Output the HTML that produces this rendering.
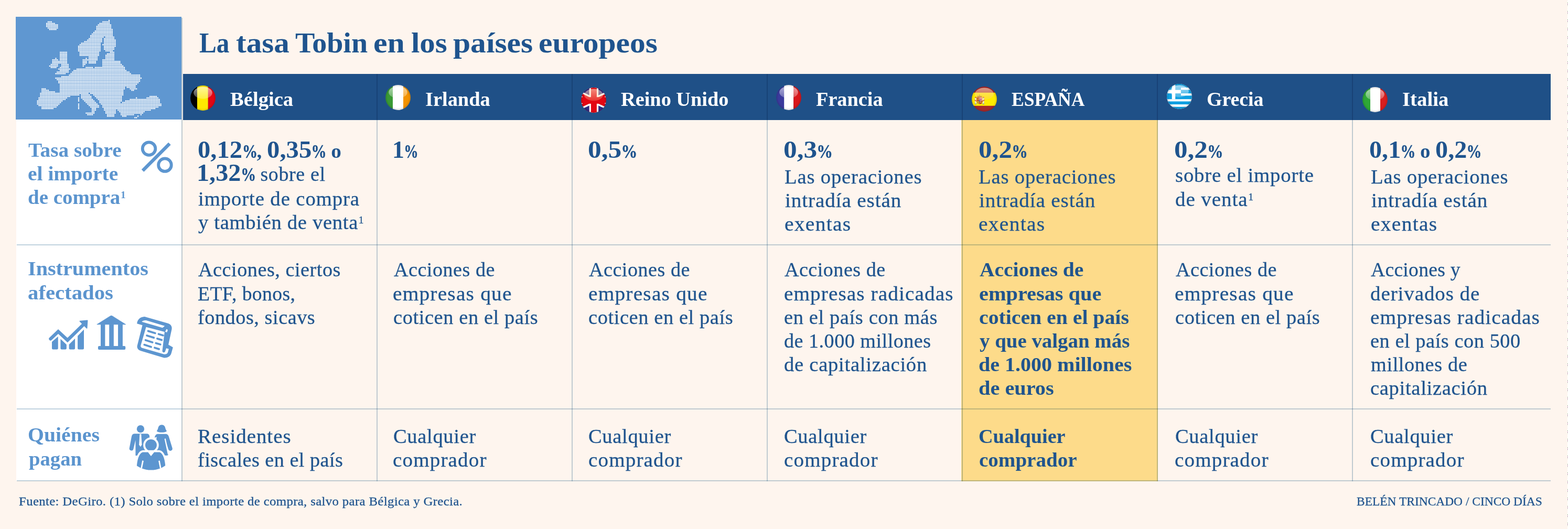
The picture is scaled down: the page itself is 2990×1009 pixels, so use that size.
<!DOCTYPE html>
<html lang="es"><head><meta charset="utf-8"><title>La tasa Tobin en los países europeos</title>
<style>
html,body{margin:0;padding:0}
body{background:#fef5ee}
.page{width:2990px;height:1009px;background:#fef5ee;position:relative;overflow:hidden;font-family:"Liberation Serif","DejaVu Serif",serif;color:#1f548e}
.abs,.t,.ic,.flag,.map{position:absolute}
.t{white-space:nowrap;line-height:1;transform-origin:0 0;margin:0;padding:0;font-weight:normal}
.title{font-size:54px;font-weight:bold;color:#1f548e}
.hd{font-size:37px;font-weight:bold;color:#fff}
.lb{font-size:37px;font-weight:bold;color:#5b94ce}
.b{font-size:37px;font-weight:normal;color:#1f548e}
.bb{font-size:38px;font-weight:bold;color:#1f548e}
.n{font-size:47px;font-weight:bold;color:#1f548e}
.ft{font-size:24px;font-weight:normal;color:#1f548e}
.cr{font-size:24px;font-weight:normal;color:#1f548e}

.n .p{font-size:36px;display:inline-block;transform:scaleX(.78);transform-origin:0 0;margin:0 -.25em 0 -.02em;-webkit-text-stroke:.5px #1f548e}
.n .o{font-size:38px}
.n .r{font-size:37px;font-weight:normal;letter-spacing:.6px}
.b,.n .r,.ft,.cr{-webkit-text-stroke:.3px #1f548e}
sup{font-size:.5em;line-height:0;vertical-align:baseline;position:relative;top:-.62em;margin-left:.04em}
h1,h2,p{margin:0}
.title .w{display:inline-block;transform-origin:0 0;white-space:pre}
.ln{background:rgb(192,211,223);mix-blend-mode:multiply}
</style></head>
<body>
<main class="page">
<div class="abs" style="left:2989px;top:0;width:1px;height:1009px;background:#fff repeating-linear-gradient(180deg,#fff 0 5px,#6fb874 5px 6px,#f2c4f2 6px 8px,#b3a6b6 8px 10px,#fff 10px 11px,#dcf2d4 11px 12px,#fff 12px 16px)"></div>
<div class="abs" style="left:31px;top:228px;width:315px;height:689px;background:#fff"></div>
<div class="abs" style="left:1833px;top:228px;width:375px;height:690px;background:#fddb8a"></div>
<div class="abs" style="left:349px;top:141px;width:2608px;height:87.5px;background:#1f5087"></div>
<div class="abs ln" style="left:32px;top:466px;width:2925px;height:2px"></div>
<div class="abs ln" style="left:32px;top:779px;width:2925px;height:2px"></div>
<div class="abs ln" style="left:32px;top:916px;width:2925px;height:2px"></div>
<div class="abs ln" style="left:346px;top:34px;width:2px;height:884px"></div>
<div class="abs ln" style="left:718px;top:141px;width:2px;height:777px"></div>
<div class="abs ln" style="left:1090px;top:141px;width:2px;height:777px"></div>
<div class="abs ln" style="left:1462px;top:141px;width:2px;height:777px"></div>
<div class="abs ln" style="left:1834px;top:141px;width:2px;height:777px"></div>
<div class="abs ln" style="left:2206px;top:141px;width:2px;height:777px"></div>
<div class="abs ln" style="left:2578px;top:141px;width:2px;height:777px"></div>
<svg class="map" style="left:30px;top:32px" width="316" height="196" viewBox="0 0 316 196">
<rect width="316" height="196" fill="#5f97d1"/>
<path d="M178.00 6.90h0.05M62.00 9.80h5.85M166.40 9.80h11.65M59.10 12.70h14.55M160.60 12.70h17.45M59.10 15.60h20.35M157.70 15.60h23.25M59.10 18.50h20.35M154.80 18.50h26.15M62.00 21.40h17.45M154.80 21.40h26.15M64.90 24.30h11.65M154.80 24.30h29.05M151.90 27.20h31.95M149.00 30.10h34.85M146.10 33.00h37.75M143.20 35.90h40.65M143.20 38.80h23.25M172.20 38.80h14.55M140.30 41.70h23.25M169.30 41.70h17.45M137.40 44.60h26.15M169.30 44.60h20.35M131.60 47.50h31.95M169.30 47.50h20.35M125.80 50.40h34.85M169.30 50.40h20.35M122.90 53.30h37.75M166.40 53.30h23.25M120.00 56.20h40.65M169.30 56.20h20.35M120.00 59.10h40.65M169.30 59.10h17.45M120.00 62.00h40.65M169.30 62.00h17.45M120.00 64.90h40.65M172.20 64.90h11.65M85.20 67.80h11.65M122.90 67.80h34.85M180.90 67.80h5.85M85.20 70.70h11.65M122.90 70.70h34.85M175.10 70.70h11.65M85.20 73.60h11.65M122.90 73.60h34.85M172.20 73.60h14.55M85.20 76.50h11.65M140.30 76.50h14.55M172.20 76.50h14.55M76.50 79.40h0.05M85.20 79.40h11.65M134.50 79.40h0.05M140.30 79.40h14.55M172.20 79.40h14.55M70.70 82.30h8.75M85.20 82.30h11.65M128.70 82.30h26.15M166.40 82.30h20.35M70.70 85.20h26.15M128.70 85.20h5.85M140.30 85.20h11.65M166.40 85.20h31.95M70.70 88.10h26.15M128.70 88.10h5.85M140.30 88.10h11.65M166.40 88.10h31.95M67.80 91.00h11.65M88.10 91.00h11.65M128.70 91.00h2.95M166.40 91.00h34.85M64.90 93.90h14.55M88.10 93.90h11.65M128.70 93.90h0.05M166.40 93.90h37.75M67.80 96.80h8.75M85.20 96.80h14.55M134.50 96.80h11.65M151.90 96.80h55.15M82.30 99.70h20.35M117.10 99.70h89.95M85.20 102.60h14.55M111.30 102.60h98.65M79.40 105.50h20.35M108.40 105.50h107.35M76.50 108.40h17.45M105.50 108.40h113.15M102.60 111.30h133.45M88.10 114.20h147.95M76.50 117.10h162.45M79.40 120.00h156.65M82.30 122.90h153.75M82.30 125.80h150.85M85.20 128.70h145.05M85.20 131.60h142.15M85.20 134.50h121.85M212.80 134.50h14.55M50.40 137.40h5.85M85.20 137.40h121.85M218.60 137.40h11.65M50.40 140.30h11.65M85.20 140.30h118.95M221.50 140.30h2.95M50.40 143.20h23.25M85.20 143.20h118.95M47.50 146.10h89.95M143.20 146.10h60.95M47.50 149.00h72.55M125.80 149.00h14.55M149.00 149.00h55.15M47.50 151.90h55.15M125.80 151.90h17.45M151.90 151.90h49.35M256.30 151.90h11.65M44.60 154.80h52.25M120.00 154.80h0.05M125.80 154.80h17.45M154.80 154.80h46.45M230.20 154.80h0.05M250.50 154.80h20.35M44.60 157.70h49.35M120.00 157.70h0.05M128.70 157.70h17.45M157.70 157.70h43.55M218.60 157.70h55.15M41.70 160.60h46.45M120.00 160.60h0.05M131.60 160.60h17.45M160.60 160.60h40.65M209.90 160.60h63.85M41.70 163.50h43.55M134.50 163.50h17.45M160.60 163.50h37.75M204.10 163.50h69.65M41.70 166.40h40.65M120.00 166.40h0.05M137.40 166.40h17.45M163.50 166.40h113.15M44.60 169.30h34.85M120.00 169.30h0.05M140.30 169.30h17.45M166.40 169.30h110.25M50.40 172.20h26.15M120.00 172.20h0.05M143.20 172.20h14.55M166.40 172.20h104.45M50.40 175.10h20.35M120.00 175.10h0.05M146.10 175.10h5.85M169.30 175.10h95.75M146.10 178.00h5.85M169.30 178.00h20.35M195.40 178.00h60.95M146.10 180.90h2.95M172.20 180.90h17.45M198.30 180.90h46.45M134.50 183.80h14.55M172.20 183.80h17.45M201.20 183.80h40.65M137.40 186.70h8.75M175.10 186.70h11.65M201.20 186.70h23.25M238.90 186.70h0.05M175.10 189.60h11.65M204.10 189.60h5.85M233.10 189.60h0.05M227.30 192.50h2.95" fill="none" stroke="#fff" stroke-width="2.55" stroke-dasharray="0 2.9" stroke-linecap="round"/>
</svg>
<svg class="flag" style="left:362.7px;top:162.7px" width="48" height="48" viewBox="0 0 48 48">
<defs><clipPath id="fc0"><circle cx="24" cy="24" r="23.9"/></clipPath>
<linearGradient id="fg0" x1="0" y1="0" x2="0" y2="1"><stop offset="0" stop-color="#fff" stop-opacity=".6"/><stop offset="1" stop-color="#fff" stop-opacity=".24"/></linearGradient>
<radialGradient id="fs0" cx=".5" cy=".5" r=".5"><stop offset=".82" stop-color="#000" stop-opacity="0"/><stop offset="1" stop-color="#000" stop-opacity=".14"/></radialGradient></defs>
<g clip-path="url(#fc0)"><rect width="13.0" height="48" fill="#000"/><rect x="13.0" width="20.799999999999997" height="48" fill="#ffe900"/><rect x="33.8" width="14.200000000000003" height="48" fill="#e30613"/>
<circle cx="24" cy="24" r="24" fill="url(#fs0)"/>
<ellipse cx="24" cy="14" rx="17.8" ry="11.4" fill="url(#fg0)"/></g></svg>
<svg class="flag" style="left:735.2px;top:162.0px" width="48" height="48" viewBox="0 0 48 48">
<defs><clipPath id="fc1"><circle cx="24" cy="24" r="23.9"/></clipPath>
<linearGradient id="fg1" x1="0" y1="0" x2="0" y2="1"><stop offset="0" stop-color="#fff" stop-opacity=".6"/><stop offset="1" stop-color="#fff" stop-opacity=".24"/></linearGradient>
<radialGradient id="fs1" cx=".5" cy=".5" r=".5"><stop offset=".82" stop-color="#000" stop-opacity="0"/><stop offset="1" stop-color="#000" stop-opacity=".14"/></radialGradient></defs>
<g clip-path="url(#fc1)"><rect width="14" height="48" fill="#3a9a34"/><rect x="14" width="20" height="48" fill="#fff"/><rect x="34" width="14" height="48" fill="#f39200"/>
<circle cx="24" cy="24" r="24" fill="url(#fs1)"/>
<ellipse cx="24" cy="14" rx="17.8" ry="11.4" fill="url(#fg1)"/></g></svg>
<svg class="flag" style="left:1107.5px;top:167.0px" width="48" height="48" viewBox="0 0 48 48">
<defs><clipPath id="fc2"><circle cx="24" cy="24" r="23.9"/></clipPath>
<linearGradient id="fg2" x1="0" y1="0" x2="0" y2="1"><stop offset="0" stop-color="#ffe6c8" stop-opacity=".6"/><stop offset="1" stop-color="#ffc890" stop-opacity=".24"/></linearGradient>
<radialGradient id="fs2" cx=".5" cy=".5" r=".5"><stop offset=".82" stop-color="#000" stop-opacity="0"/><stop offset="1" stop-color="#000" stop-opacity=".14"/></radialGradient></defs>
<g clip-path="url(#fc2)"><rect width="48" height="48" fill="#e30613"/><path d="M0 0H15.7V16.3L0 8.7ZM48 0H33.1V16.6L48 9.5ZM0 48H15.7V32.4L0 39.9ZM48 48H33.1V31.8L48 39.4Z" fill="#2c2a84"/><path d="M-2 7.8 19 17.9M50 8.6 30 18.1M-2 40.8 19 30.9M50 40.3 30 31.3" stroke="#fff" stroke-width="3.3" fill="none"/><path d="M0 17.6h3M0 30.4h3M48 17.6h-3M48 30.2h-3" stroke="#fff" stroke-width="1.2"/><rect x="15.7" width="17.4" height="48" fill="#fff"/><rect x="18.9" width="11" height="48" fill="#e30613"/><rect x="14" y="18.2" width="20" height="12.6" fill="#e30613"/>
<circle cx="24" cy="24" r="24" fill="url(#fs2)"/>
<ellipse cx="24" cy="14" rx="17.8" ry="11.4" fill="url(#fg2)"/></g></svg>
<svg class="flag" style="left:1480.3px;top:162.0px" width="48" height="48" viewBox="0 0 48 48">
<defs><clipPath id="fc3"><circle cx="24" cy="24" r="23.9"/></clipPath>
<linearGradient id="fg3" x1="0" y1="0" x2="0" y2="1"><stop offset="0" stop-color="#fff" stop-opacity=".6"/><stop offset="1" stop-color="#fff" stop-opacity=".24"/></linearGradient>
<radialGradient id="fs3" cx=".5" cy=".5" r=".5"><stop offset=".82" stop-color="#000" stop-opacity="0"/><stop offset="1" stop-color="#000" stop-opacity=".14"/></radialGradient></defs>
<g clip-path="url(#fc3)"><rect width="15.2" height="48" fill="#3a3a9c"/><rect x="15.2" width="18.000000000000004" height="48" fill="#fff"/><rect x="33.2" width="14.799999999999997" height="48" fill="#d8161a"/>
<circle cx="24" cy="24" r="24" fill="url(#fs3)"/>
<ellipse cx="24" cy="14" rx="17.8" ry="11.4" fill="url(#fg3)"/></g></svg>
<svg class="flag" style="left:1852.7px;top:164.7px" width="48" height="48" viewBox="0 0 48 48">
<defs><clipPath id="fc4"><circle cx="24" cy="24" r="23.9"/></clipPath>
<linearGradient id="fg4" x1="0" y1="0" x2="0" y2="1"><stop offset="0" stop-color="#ffe6c8" stop-opacity=".6"/><stop offset="1" stop-color="#ffc890" stop-opacity=".24"/></linearGradient>
<radialGradient id="fs4" cx=".5" cy=".5" r=".5"><stop offset=".82" stop-color="#000" stop-opacity="0"/><stop offset="1" stop-color="#000" stop-opacity=".14"/></radialGradient></defs>
<g clip-path="url(#fc4)"><rect width="48" height="48" fill="#a62829"/><rect y="11.7" width="48" height="25.1" fill="#ffec00"/><g fill="#e9e2cf"><rect x="6.2" y="21" width="2.6" height="12"/><rect x="20.9" y="21" width="2.6" height="12"/></g><g fill="#c8271f"><path d="M5.3 25.2l4.4 2.2v1.4l-4.4-2.2zM24.4 25.2l-4.4 2.2v1.4l4.4-2.2z"/><rect x="6" y="20.2" width="3" height="1.2"/><rect x="20.7" y="20.2" width="3" height="1.2"/></g><g fill="#5a78b8"><rect x="5.8" y="32.6" width="3.4" height="1.1"/><rect x="20.5" y="32.6" width="3.4" height="1.1"/></g><path d="M10.2 19.6 9.9 17.2l2.3 1 2.6-2.4 2.6 2.4 2.3-1-.3 2.4Z" fill="#c9a227"/><rect x="10.4" y="19.4" width="8.8" height="1.3" fill="#b7342c"/><rect x="14.5" y="14.6" width=".7" height="1.6" fill="#c9a227"/><path d="M9.7 21.2h10.2v8.2q0 4-5.1 4t-5.1-4Z" fill="#c8982e"/><path d="M9.7 21.2h5.1v6H9.7Z" fill="#b9302a"/><path d="M14.8 21.2h5.1v6h-5.1Z" fill="#e9b6c4"/><path d="M16 22.4h2.8v3.6H16Z" fill="#c2418c"/><path d="M11 22.4h2.5v3.6H11Z" fill="#d8a43a"/><path d="M14.8 27.2h5.1v2.2q0 3-3 3.7-2.1.4-2.1.3Z" fill="#b9302a"/><circle cx="17.2" cy="29.6" r="1.6" fill="#d8b44a"/><circle cx="14.8" cy="27.2" r="1.3" fill="#4f69a8"/>
<circle cx="24" cy="24" r="24" fill="url(#fs4)"/>
<ellipse cx="24" cy="14" rx="17.8" ry="11.4" fill="url(#fg4)"/></g></svg>
<svg class="flag" style="left:2225.2px;top:160.0px" width="48" height="48" viewBox="0 0 48 48">
<defs><clipPath id="fc5"><circle cx="24" cy="24" r="23.9"/></clipPath>
<linearGradient id="fg5" x1="0" y1="0" x2="0" y2="1"><stop offset="0" stop-color="#fff" stop-opacity=".6"/><stop offset="1" stop-color="#fff" stop-opacity=".24"/></linearGradient>
<radialGradient id="fs5" cx=".5" cy=".5" r=".5"><stop offset=".82" stop-color="#000" stop-opacity="0"/><stop offset="1" stop-color="#000" stop-opacity=".14"/></radialGradient></defs>
<g clip-path="url(#fc5)"><rect width="48" height="48" fill="#fff"/><rect y="0" width="48" height="7.0" fill="#0d9fe1"/><rect y="11.3" width="48" height="6.8" fill="#0d9fe1"/><rect y="22.4" width="48" height="6.7" fill="#0d9fe1"/><rect y="33.4" width="48" height="5.7" fill="#0d9fe1"/><rect y="43.8" width="48" height="4.2" fill="#0d9fe1"/><rect width="26.9" height="29.1" fill="#0d9fe1"/><rect x="9.7" width="6.5" height="29.1" fill="#fff"/><rect y="11.5" width="26.9" height="6.6" fill="#fff"/>
<circle cx="24" cy="24" r="24" fill="url(#fs5)"/>
<ellipse cx="24" cy="14" rx="17.8" ry="11.4" fill="url(#fg5)"/></g></svg>
<svg class="flag" style="left:2597.6px;top:165.9px" width="48" height="48" viewBox="0 0 48 48">
<defs><clipPath id="fc6"><circle cx="24" cy="24" r="23.9"/></clipPath>
<linearGradient id="fg6" x1="0" y1="0" x2="0" y2="1"><stop offset="0" stop-color="#fff" stop-opacity=".6"/><stop offset="1" stop-color="#fff" stop-opacity=".24"/></linearGradient>
<radialGradient id="fs6" cx=".5" cy=".5" r=".5"><stop offset=".82" stop-color="#000" stop-opacity="0"/><stop offset="1" stop-color="#000" stop-opacity=".14"/></radialGradient></defs>
<g clip-path="url(#fc6)"><rect width="15" height="48" fill="#2ea836"/><rect x="15" width="19" height="48" fill="#fff"/><rect x="34" width="14" height="48" fill="#d81e1e"/>
<circle cx="24" cy="24" r="24" fill="url(#fs6)"/>
<ellipse cx="24" cy="14" rx="17.8" ry="11.4" fill="url(#fg6)"/></g></svg>
<svg class="ic" style="left:250px;top:250px" width="100" height="100" viewBox="0 0 869 869">
<g fill="none" stroke="#5d96d0" stroke-width="50"><circle cx="296" cy="292" r="107"/><circle cx="560" cy="562" r="107"/>
<path d="M192 656 638 208" stroke-width="56"/></g></svg>
<svg class="ic" style="left:80px;top:590px" width="260" height="110" viewBox="0 0 2054 869"><g fill="#5d96d0"><path d="M150 490L243 408V588q0 17-17 17H167q-17 0-17-17Z"/><path d="M280 446L370 532V588q0 17-17 17H297q-17 0-17-17Z"/><path d="M408 530L498 440V588q0 17-17 17H425q-17 0-17-17Z"/><path d="M538 400L632 305V588q0 17-17 17H555q-17 0-17-17Z"/>
<path d="M130 445 245 335 385 465 640 215" fill="none" stroke="#5d96d0" stroke-width="50" stroke-linecap="round" stroke-linejoin="miter"/>
<path d="M572 178 684 168 676 284Z" stroke="#5d96d0" stroke-width="14" stroke-linejoin="round"/></g><g fill="#5d96d0"><path d="M830 228 1030 102q15-9 30 0L1260 228Z" stroke="#5d96d0" stroke-width="8" stroke-linejoin="round"/>
<rect x="885" y="225" width="66" height="335"/><rect x="1013" y="225" width="68" height="335"/><rect x="1146" y="225" width="70" height="335"/>
<rect x="845" y="553" width="413" height="55" rx="16"/></g></svg><svg class="ic" style="left:255px;top:598px" width="80" height="90" viewBox="0 0 772 868.5">
<path fill="#5d96d0" d="M60 185C65 120 110 62 200 58L630 182C682 198 708 238 700 288L638 575 722 622 695 720C680 782 640 818 558 815L140 690C85 672 55 640 65 590L160 215Z"/>
<path fill="#fff" d="M148 153C165 130 195 122 228 126L572 228 530 262Z"/>
<path fill="#fff" d="M228 248 568 338 526 688A27 27 0 0 0 578 700L598 640 645 652 628 715C618 745 590 752 560 750L150 632C128 622 124 605 130 585Z"/>
<path fill="#fff" d="M578 338 602 288Q618 290 626 304L612 346Z"/>
<path d="M265 322L395 362M458 378L540 403M242 405L370 445M433 462L515 487M218 490L345 530M408 545L490 570M195 575L320 615M385 630L465 655" fill="none" stroke="#5d96d0" stroke-width="36" stroke-linecap="round"/>
</svg>
<svg class="ic" style="left:230px;top:795px" width="120" height="115" viewBox="0 0 907 869">
<defs><clipPath id="pc"><circle cx="438" cy="400" r="368"/></clipPath></defs>
<g fill="#5d96d0">
<circle cx="287" cy="175" r="54"/>
<path d="M200 243H375q42 0 42 45V560H215V335L185 462q-8 30-36 24t-22-36L158 285q8-42 42-42Z"/>
<path fill="#fff" d="M275 250h22l9 152-20 30-20-30Z"/>
<path d="M593 116C560 116 545 140 540 165 535 186 526 196 520 206 545 232 640 232 666 206 658 196 650 186 645 165 640 140 626 116 593 116Z"/>
<path d="M535 247H650q32 0 44 36L745 450q8 28-18 38t-38-18L640 320 690 540q-10 22-30 18H480L520 290 490 300q10-53 45-53Z"/>
<path fill="#fff" d="M632 318 l16 -6 50 225 -18 8Z"/>
<circle cx="438" cy="408" r="112" fill="#fff"/>
<circle cx="438" cy="408" r="83"/>
<g clip-path="url(#pc)">
<path fill="#fff" d="M205 800Q205 500 320 482H560Q670 500 672 800Z"/>
<path d="M228 800Q232 540 318 510H395L438 566 484 510H562Q645 540 650 800Z"/>
<path d="M322 632 296 760M555 632 580 760" stroke="#fff" stroke-width="20" fill="none"/>
</g></g></svg>
<h1 class="t title" style="left:379.8px;top:55px"><span class="w" style="width:70.28px;transform:scaleX(0.9108)">La </span><span class="w" style="width:113.08px;transform:scaleX(1.0951)">tasa </span><span class="w" style="width:149.01px;transform:scaleX(1.0367)">Tobin </span><span class="w" style="width:71.77px;transform:scaleX(1.1078)">en </span><span class="w" style="width:79.73px;transform:scaleX(1.0902)">los </span><span class="w" style="width:162.91px;transform:scaleX(1.1026)">países </span><span class="w" style="transform:scaleX(1.1012)">europeos</span></h1>
<div class="hname">
<h2 class="t hd" style="left:439.4px;top:171px;transform:scaleX(1.0438);">Bélgica</h2>
</div>
<div class="hname">
<h2 class="t hd" style="left:811.0px;top:171px;transform:scaleX(1.0381);">Irlanda</h2>
</div>
<div class="hname">
<h2 class="t hd" style="left:1184.4px;top:171px;transform:scaleX(1.0356);">Reino Unido</h2>
</div>
<div class="hname">
<h2 class="t hd" style="left:1556.4px;top:171px;transform:scaleX(1.0345);">Francia</h2>
</div>
<div class="hname">
<h2 class="t hd" style="left:1929.4px;top:171px;transform:scaleX(0.9593);">ESPAÑA</h2>
</div>
<div class="hname">
<h2 class="t hd" style="left:2300.7px;top:171px;transform:scaleX(1.0215);">Grecia</h2>
</div>
<div class="hname">
<h2 class="t hd" style="left:2673.8px;top:171px;transform:scaleX(1.0482);">Italia</h2>
</div>
<div class="label">
<div class="t lb" style="left:53.9px;top:268px;transform:scaleX(1.0606);">Tasa sobre</div>
<div class="t lb" style="left:53.4px;top:313px;transform:scaleX(1.0677);">el importe</div>
<div class="t lb" style="left:53.4px;top:358px;transform:scaleX(1.0524);">de compra<sup>1</sup></div>
</div>
<div class="label">
<div class="t lb" style="left:52.9px;top:494px;transform:scaleX(1.0857);">Instrumentos</div>
<div class="t lb" style="left:53.4px;top:540px;transform:scaleX(1.1014);">afectados</div>
</div>
<div class="label">
<div class="t lb" style="left:52.5px;top:811px;transform:scaleX(1.0738);">Quiénes</div>
<div class="t lb" style="left:54.5px;top:857px;transform:scaleX(1.0446);">pagan</div>
</div>
<div class="cell">
<div class="t n" style="left:376.5px;top:262px;transform:scaleX(1.0356);">0,12<span class="p">%</span><span class="o">, </span>0,35<span class="p">%</span><span class="o"> o</span></div>
<div class="t n" style="left:374.5px;top:306px;transform:scaleX(1.0262);">1,32<span class="p">%</span><span class="r"> sobre el</span></div>
<div class="t b" style="left:378.0px;top:361px;transform:scaleX(1.0482);letter-spacing:0.84px;">importe de compra</div>
<div class="t b" style="left:378.0px;top:406px;transform:scaleX(1.0422);letter-spacing:0.68px;">y también de venta<sup>1</sup></div>
</div>
<div class="cell">
<div class="t n" style="left:747.8px;top:262px;transform:scaleX(0.9727);">1<span class="p">%</span></div>
</div>
<div class="cell">
<div class="t n" style="left:1120.8px;top:262px;transform:scaleX(1.0950);">0,5<span class="p">%</span></div>
</div>
<div class="cell">
<div class="t n" style="left:1494.0px;top:262px;transform:scaleX(1.0926);">0,3<span class="p">%</span></div>
<div class="t b" style="left:1496.1px;top:319px;transform:scaleX(1.0454);letter-spacing:0.77px;">Las operaciones</div>
<div class="t b" style="left:1497.1px;top:364px;transform:scaleX(1.0565);letter-spacing:0.86px;">intradía están</div>
<div class="t b" style="left:1496.0px;top:409px;transform:scaleX(1.0666);letter-spacing:1.21px;">exentas</div>
</div>
<div class="cell hl">
<div class="t n" style="left:1865.6px;top:262px;transform:scaleX(1.0889);">0,2<span class="p">%</span></div>
<div class="t b" style="left:1866.2px;top:319px;transform:scaleX(1.0454);letter-spacing:0.77px;">Las operaciones</div>
<div class="t b" style="left:1867.2px;top:364px;transform:scaleX(1.0565);letter-spacing:0.86px;">intradía están</div>
<div class="t b" style="left:1866.1px;top:409px;transform:scaleX(1.0666);letter-spacing:1.21px;">exentas</div>
</div>
<div class="cell">
<div class="t n" style="left:2239.0px;top:262px;transform:scaleX(1.0865);">0,2<span class="p">%</span></div>
<div class="t b" style="left:2241.0px;top:316px;transform:scaleX(1.0480);letter-spacing:0.76px;">sobre el importe</div>
<div class="t b" style="left:2240.9px;top:362px;transform:scaleX(1.0535);letter-spacing:0.88px;">de venta<sup>1</sup></div>
</div>
<div class="cell">
<div class="t n" style="left:2611.4px;top:262px;transform:scaleX(1.0249);">0,1<span class="p">%</span><span class="o"> o </span>0,2<span class="p">%</span></div>
<div class="t b" style="left:2613.8px;top:319px;transform:scaleX(1.0454);letter-spacing:0.77px;">Las operaciones</div>
<div class="t b" style="left:2614.8px;top:364px;transform:scaleX(1.0565);letter-spacing:0.86px;">intradía están</div>
<div class="t b" style="left:2613.7px;top:409px;transform:scaleX(1.0666);letter-spacing:1.21px;">exentas</div>
</div>
<div class="cell">
<div class="t b" style="left:378.0px;top:496px;transform:scaleX(1.0322);letter-spacing:0.51px;">Acciones, ciertos</div>
<div class="t b" style="left:377.1px;top:542px;transform:scaleX(1.0195);letter-spacing:0.34px;">ETF, bonos,</div>
<div class="t b" style="left:377.0px;top:587px;transform:scaleX(1.0331);letter-spacing:0.53px;">fondos, sicavs</div>
</div>
<div class="cell">
<div class="t b" style="left:750.5px;top:496px;transform:scaleX(1.0286);letter-spacing:0.52px;">Acciones de</div>
<div class="t b" style="left:749.4px;top:542px;transform:scaleX(1.0633);letter-spacing:1.14px;">empresas que</div>
<div class="t b" style="left:749.5px;top:587px;transform:scaleX(1.0382);letter-spacing:0.57px;">coticen en el país</div>
</div>
<div class="cell">
<div class="t b" style="left:1122.7px;top:496px;transform:scaleX(1.0286);letter-spacing:0.52px;">Acciones de</div>
<div class="t b" style="left:1121.6px;top:542px;transform:scaleX(1.0633);letter-spacing:1.14px;">empresas que</div>
<div class="t b" style="left:1121.7px;top:587px;transform:scaleX(1.0382);letter-spacing:0.57px;">coticen en el país</div>
</div>
<div class="cell">
<div class="t b" style="left:1496.3px;top:496px;transform:scaleX(1.0278);letter-spacing:0.50px;">Acciones de</div>
<div class="t b" style="left:1495.2px;top:542px;transform:scaleX(1.0608);letter-spacing:1.02px;">empresas radicadas</div>
<div class="t b" style="left:1495.3px;top:587px;transform:scaleX(1.0383);letter-spacing:0.61px;">en el país con más</div>
<div class="t b" style="left:1495.3px;top:632px;transform:scaleX(1.0299);letter-spacing:0.49px;">de 1.000 millones</div>
<div class="t b" style="left:1495.3px;top:677px;transform:scaleX(1.0444);letter-spacing:0.69px;">de capitalización</div>
</div>
<div class="cell hl">
<div class="t bb" style="left:1868.0px;top:495px;transform:scaleX(1.0382);">Acciones de</div>
<div class="t bb" style="left:1866.9px;top:541px;transform:scaleX(1.0610);">empresas que</div>
<div class="t bb" style="left:1867.0px;top:586px;transform:scaleX(1.0457);">coticen en el país</div>
<div class="t bb" style="left:1868.0px;top:631px;transform:scaleX(1.0233);">y que valgan más</div>
<div class="t bb" style="left:1866.3px;top:676px;transform:scaleX(1.0531);">de 1.000 millones</div>
<div class="t bb" style="left:1866.3px;top:721px;transform:scaleX(1.0608);">de euros</div>
</div>
<div class="cell">
<div class="t b" style="left:2241.5px;top:496px;transform:scaleX(1.0286);letter-spacing:0.52px;">Acciones de</div>
<div class="t b" style="left:2240.4px;top:542px;transform:scaleX(1.0633);letter-spacing:1.14px;">empresas que</div>
<div class="t b" style="left:2240.5px;top:587px;transform:scaleX(1.0382);letter-spacing:0.57px;">coticen en el país</div>
</div>
<div class="cell">
<div class="t b" style="left:2614.0px;top:496px;transform:scaleX(1.0155);letter-spacing:0.29px;">Acciones y</div>
<div class="t b" style="left:2612.9px;top:542px;transform:scaleX(1.0524);letter-spacing:0.89px;">derivados de</div>
<div class="t b" style="left:2612.9px;top:587px;transform:scaleX(1.0613);letter-spacing:1.03px;">empresas radicadas</div>
<div class="t b" style="left:2613.0px;top:632px;transform:scaleX(1.0352);letter-spacing:0.55px;">en el país con 500</div>
<div class="t b" style="left:2614.0px;top:677px;transform:scaleX(1.0345);letter-spacing:0.59px;">millones de</div>
<div class="t b" style="left:2613.0px;top:722px;transform:scaleX(1.0420);letter-spacing:0.66px;">capitalización</div>
</div>
<div class="cell">
<div class="t b" style="left:377.0px;top:814px;transform:scaleX(1.0530);letter-spacing:0.93px;">Residentes</div>
<div class="t b" style="left:377.0px;top:859px;transform:scaleX(1.0324);letter-spacing:0.46px;">fiscales en el país</div>
</div>
<div class="cell">
<div class="t b" style="left:749.5px;top:814px;transform:scaleX(1.0382);letter-spacing:0.69px;">Cualquier</div>
<div class="t b" style="left:749.4px;top:859px;transform:scaleX(1.0552);letter-spacing:1.10px;">comprador</div>
</div>
<div class="cell">
<div class="t b" style="left:1121.7px;top:814px;transform:scaleX(1.0382);letter-spacing:0.69px;">Cualquier</div>
<div class="t b" style="left:1121.6px;top:859px;transform:scaleX(1.0552);letter-spacing:1.10px;">comprador</div>
</div>
<div class="cell">
<div class="t b" style="left:1495.3px;top:814px;transform:scaleX(1.0382);letter-spacing:0.69px;">Cualquier</div>
<div class="t b" style="left:1495.2px;top:859px;transform:scaleX(1.0552);letter-spacing:1.10px;">comprador</div>
</div>
<div class="cell">
<div class="t b" style="left:2240.5px;top:814px;transform:scaleX(1.0382);letter-spacing:0.69px;">Cualquier</div>
<div class="t b" style="left:2240.4px;top:859px;transform:scaleX(1.0552);letter-spacing:1.10px;">comprador</div>
</div>
<div class="cell">
<div class="t b" style="left:2613.0px;top:814px;transform:scaleX(1.0382);letter-spacing:0.69px;">Cualquier</div>
<div class="t b" style="left:2612.9px;top:859px;transform:scaleX(1.0552);letter-spacing:1.10px;">comprador</div>
</div>
<div class="cell hl">
<div class="t bb" style="left:1866.1px;top:813px;transform:scaleX(1.0054);">Cualquier</div>
<div class="t bb" style="left:1867.0px;top:858px;transform:scaleX(1.0278);">comprador</div>
</div>
<div class="foot">
<p class="t ft" style="left:36.1px;top:944px;transform:scaleX(1.0338);letter-spacing:0.33px;">Fuente: DeGiro. (1) Solo sobre el importe de compra, salvo para Bélgica y Grecia.</p>
</div>
<div class="credit">
<p class="t cr" style="left:2587.4px;top:944px;transform:scaleX(0.9766);">BELÉN TRINCADO / CINCO DÍAS</p>
</div>
</main>
</body></html>
